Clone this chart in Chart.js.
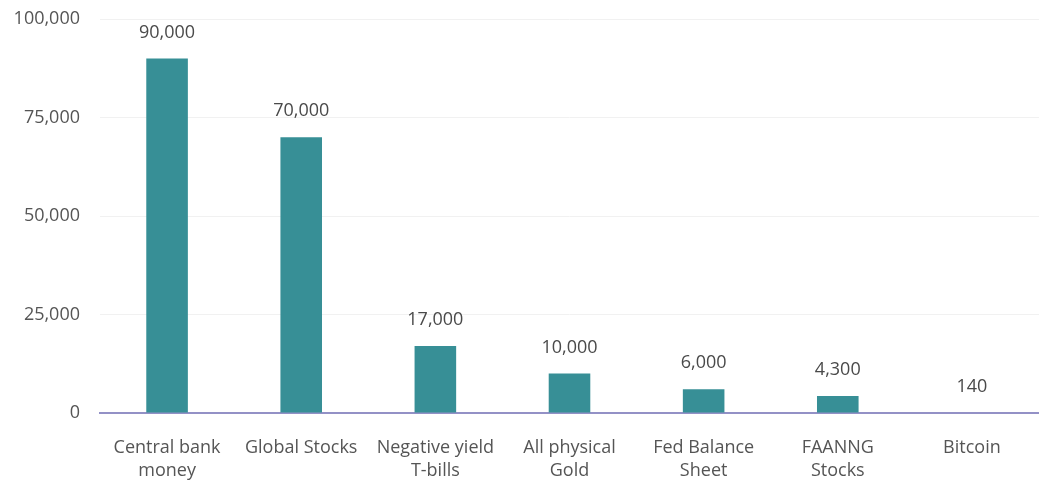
<!DOCTYPE html>
<html>
<head>
<meta charset="utf-8">
<script src="https://cdn.jsdelivr.net/npm/chart.js@4/dist/chart.umd.min.js"></script>
<style>
  html, body { margin: 0; padding: 0; background: #fff; }
  #wrap { width: 1039px; height: 483px; }
</style>
</head>
<body>
<div id="wrap"><canvas id="assets"></canvas></div>
<script>
// Asset sizes (values as shown in the chart)
const categories = [
    ['Central bank', 'money'],
    'Global Stocks',
    ['Negative yield', 'T-bills'],
    ['All physical', 'Gold'],
    ['Fed Balance', 'Sheet'],
    ['FAANNG', 'Stocks'],
    'Bitcoin'
];
const values = [90000, 70000, 17000, 10000, 6000, 4300, 140];
const yTicks = [0, 25000, 50000, 75000, 100000];

const fmt = v => v.toLocaleString('en-US');
const FONT = '"Open Sans", sans-serif';

// draws value labels above each bar
const valueLabels = {
    id: 'valueLabels',
    afterDatasetsDraw(chart) {
        const ctx = chart.ctx;
        const meta = chart.getDatasetMeta(0);
        ctx.save();
        ctx.font = '18px ' + FONT;
        ctx.fillStyle = '#4a4a4a';
        ctx.textAlign = 'center';
        ctx.textBaseline = 'middle';
        meta.data.forEach((bar, i) => {
            ctx.fillText(fmt(values[i]), bar.x, bar.y - 26);
        });
        ctx.restore();
    }
};

new Chart(document.getElementById('assets').getContext('2d'), {
    type: 'bar',
    data: {
        labels: categories,
        datasets: [{
            data: values,
            backgroundColor: '#378f96',
            borderWidth: 0,
            barPercentage: 0.31,
            categoryPercentage: 1
        }]
    },
    options: {
        responsive: true,
        maintainAspectRatio: false,
        animation: false,
        layout: { padding: { top: 19, right: 0, left: 0, bottom: 0 } },
        plugins: {
            legend: { display: false },
            tooltip: { enabled: false }
        },
        scales: {
            x: {
                grid: { display: false },
                border: { color: '#9391c6', width: 2 },
                afterFit: axis => { axis.height = 70; },
                ticks: {
                    color: '#555',
                    font: { family: FONT, size: 18, lineHeight: 1.28 },
                    padding: 15,
                    maxRotation: 0,
                    autoSkip: false
                }
            },
            y: {
                min: 0,
                max: 100000,
                afterBuildTicks: axis => { axis.ticks = yTicks.map(v => ({ value: v })); },
                afterFit: axis => { axis.width = 100; axis.paddingTop = 0; },
                grid: { color: '#f1f1f1', drawTicks: false },
                border: { display: false },
                ticks: {
                    color: '#555',
                    font: { family: FONT, size: 18 },
                    padding: 20,
                    callback: v => fmt(v)
                }
            }
        }
    },
    plugins: [valueLabels]
});
</script>
</body>
</html>
